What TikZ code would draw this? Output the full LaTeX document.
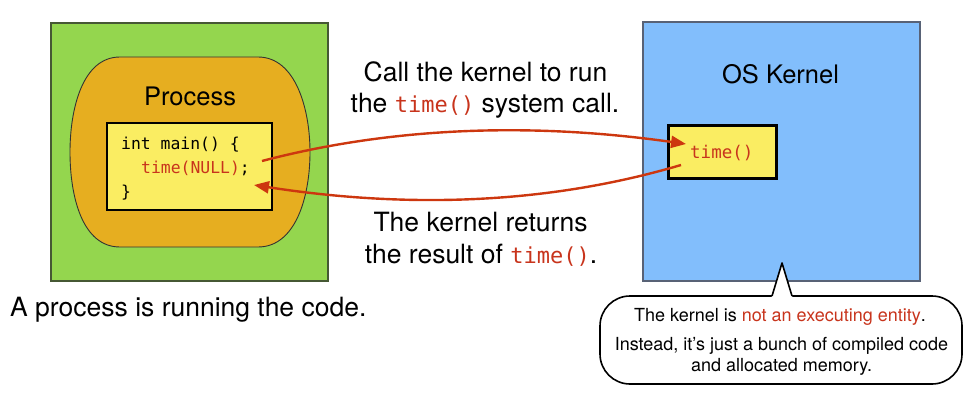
\documentclass[tikz,border=0pt]{standalone}
\usepackage{fontspec}
\setmainfont{TeX Gyre Heros}
\newfontfamily\codefont{DejaVu Sans Mono}
\usetikzlibrary{arrows.meta}
\definecolor{procgreen}{RGB}{148,214,78}
\definecolor{greenedge}{RGB}{70,88,52}
\definecolor{procorange}{RGB}{230,174,32}
\definecolor{codeyellow}{RGB}{250,237,98}
\definecolor{kernblue}{RGB}{130,190,252}
\definecolor{blueedge}{RGB}{88,98,118}
\definecolor{codered}{RGB}{200,52,28}
\definecolor{arrowred}{RGB}{205,55,15}
\begin{document}
\begin{tikzpicture}[x=1pt,y=-1pt,
  bigtext/.style={font=\fontsize{26.5}{30}\selectfont, inner sep=0pt, anchor=base},
  titletext/.style={font=\fontsize{25.5}{30}\selectfont, inner sep=0pt, anchor=base},
  notetext/.style={font=\fontsize{18}{22}\selectfont, inner sep=0pt, anchor=base},
  codetext/.style={font=\codefont\fontsize{16.4}{20}\selectfont, inner sep=0pt, anchor=base west},
  codebox/.style={draw=black, line width=2.6pt, fill=codeyellow, inner sep=0pt},
  bigbox/.style={line width=1.3pt, inner sep=0pt},
  redarrow/.style={draw=arrowred, line width=2.4pt, -{Triangle[length=15pt,width=12pt]}},
]
\useasboundingbox (0,0) rectangle (973,401);

% process side
\node[bigbox, draw=greenedge, fill=procgreen, minimum width=277pt, minimum height=258pt] (procbox) at (189.5,152) {};
\path[draw=black!80, line width=0.9pt, fill=procorange]
  (120,57) -- (258,57) .. controls (296,57) and (310,110) .. (310,152)
  .. controls (310,196) and (296,247) .. (258,247) -- (120,247)
  .. controls (82,247) and (70,196) .. (70,152)
  .. controls (70,110) and (82,57) .. (120,57) -- cycle;
\node[titletext] (proclabel) at (190,106) {Process};
\node[codebox, minimum width=165pt, minimum height=87pt] (codebox) at (189.5,166.5) {};
\node[codetext] (line1) at (121,149) {int main() \{};
\node[codetext] (line2) at (141,173) {\color{codered}time(NULL)\color{black};};
\node[codetext] (line3) at (121,197) {\}};
\node[bigtext, anchor=base west] (proccap) at (10,316) {A process is running the code.};

% kernel side
\node[bigbox, draw=blueedge, fill=kernblue, minimum width=277pt, minimum height=259pt] (kernbox) at (781.5,151.5) {};
\node[titletext] (kernlabel) at (780.5,84) {OS Kernel};
\node[codebox, minimum width=108pt, minimum height=53pt] (timebox) at (722.5,152) {};
\node[font=\codefont\fontsize{17.5}{20}\selectfont, inner sep=0pt, anchor=base west, text=codered] (timecall) at (690,158) {time()};

% middle texts
\node[bigtext] (calla) at (485.5,82) {Call the kernel to run};
\node[bigtext] (callb) at (485,113) {the {\codefont\fontsize{22}{26}\selectfont\color{codered}time()} system call.};
\node[bigtext] (reta) at (480.5,231) {The kernel returns};
\node[bigtext] (retb) at (481,263) {the result of {\codefont\fontsize{22}{26}\selectfont\color{codered}time()}.};

% arrows
\coordinate (callsrc) at (262,161);
\coordinate (calldst) at (686,144);
\coordinate (retsrc) at (681,165);
\coordinate (retdst) at (254,185);
\draw[redarrow] (callsrc) .. controls (403,124) and (545,124) .. (calldst);
\draw[redarrow] (retsrc) .. controls (539,207) and (396,207) .. (retdst);

% callout
\coordinate (tip) at (782,263);
\draw[line width=1.6pt, fill=white, rounded corners=30pt] (600,296) rectangle (962,384);
\fill[white] (771.5,297.6) -- (tip) -- (792.5,297.6) -- cycle;
\draw[line width=1.6pt, line join=round] (772,296) -- (tip) -- (792,296);
\node[notetext] (notea) at (780,321) {The kernel is {\color{codered}not an executing entity}.};
\node[notetext] (noteb) at (781.5,350) {Instead, it’s just a bunch of compiled code};
\node[notetext] (notec) at (781.5,371) {and allocated memory.};
\end{tikzpicture}
\end{document}
